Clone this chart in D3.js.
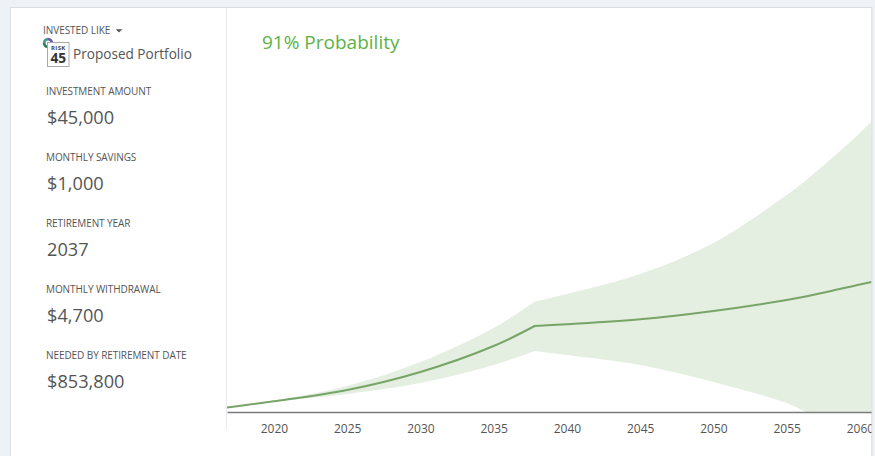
<!DOCTYPE html>
<html>
<head>
<meta charset="utf-8">
<script src="https://cdn.jsdelivr.net/npm/d3@7"></script>
<style>
  html, body { margin: 0; padding: 0; background: #eef1f6; overflow: hidden; }
  svg { display: block; font-family: "Open Sans", sans-serif; }
</style>
</head>
<body>
<svg id="chart" width="875" height="456"></svg>
<script>
// values, the break is the retirement point
const years  = [2016.8, 2020, 2025, 2030, 2035, 2037.8, 2040, 2045, 2050, 2055, 2056.3, 2060, 2060.8];
const median = [45000, 106000, 218000, 397000, 655000, 853800, 871000, 920000, 1003000, 1112000, 1147000, 1266000, 1291000];
const upper  = [45000, 114000, 258000, 496000, 834000, 1095000, 1172000, 1370000, 1678000, 2154000, 2298000, 2770000, 2889000];
const lower  = [45000, 102000, 179000, 288000, 467000, 606000, 566000, 467000, 298000, 89000, 0, 0, 0];
const tickYears = [2020, 2025, 2030, 2035, 2040, 2045, 2050, 2055, 2060];
const retireIndex = 5;
const floorIndex = 10; // lower edge reaches zero here

const fieldLabels = ["INVESTMENT AMOUNT", "MONTHLY SAVINGS", "RETIREMENT YEAR", "MONTHLY WITHDRAWAL", "NEEDED BY RETIREMENT DATE"];
const fieldValues = ["$45,000", "$1,000", "2037", "$4,700", "$853,800"];

const svg = d3.select("#chart");
const textColor = "#555";

// panel
svg.append("rect").attr("x", 10.5).attr("y", 7.5).attr("width", 861.5).attr("height", 460)
    .attr("fill", "#fff").attr("stroke", "#d9dde6");
svg.append("line").attr("x1", 226.5).attr("x2", 226.5).attr("y1", 8).attr("y2", 430)
    .attr("stroke", "#e9ebf3");

const x = d3.scaleLinear().domain([2016.8, 2060.8]).range([227, 871.6]);
const y = d3.scaleLinear().domain([0, 3000000]).range([412, 109.8]);

const rows = years.map((d, i) => ({ year: d, median: median[i], upper: upper[i], lower: lower[i] }));

// one edge of the chart as a path string
const edge = (part, key) => d3.line()
    .x(d => x(d.year))
    .y(d => y(d[key]))
    .curve(d3.curveCatmullRom.alpha(0.5))(part);
const joined = (part, key) => edge(part, key).replace("M", "L");

// corners stay sharp at the retirement point and where the lower edge hits zero
const before = rows.slice(0, retireIndex + 1);
const after = rows.slice(retireIndex);
const falling = rows.slice(retireIndex, floorIndex + 1);
const floor = rows.slice(floorIndex);

const bandPath = edge(before, "upper") + joined(after, "upper")
    + joined(floor.slice().reverse(), "lower")
    + joined(falling.slice().reverse(), "lower")
    + joined(before.slice().reverse(), "lower") + "Z";

svg.append("path").attr("d", bandPath).attr("fill", "#e4eee1");
svg.append("path").attr("d", edge(before, "median") + joined(after, "median")).attr("fill", "none")
    .attr("stroke", "#77a568").attr("stroke-width", 2).attr("stroke-linejoin", "round");

// axis
const axis = d3.axisBottom(x).tickValues(tickYears).tickFormat(d3.format("d")).tickSize(0).tickPadding(12).tickSizeOuter(0);
const axisG = svg.append("g").attr("transform", "translate(0,412)").call(axis);
axisG.select(".domain").attr("stroke", "#7b7b7b").attr("stroke-width", 1.5);
axisG.selectAll("text").attr("font-size", 12).attr("font-family", "Open Sans").attr("fill", textColor);

// the last tick label runs under the panel edge
svg.append("rect").attr("x", 872).attr("y", 0).attr("width", 3).attr("height", 456).attr("fill", "#eef1f6");
svg.append("line").attr("x1", 872).attr("x2", 872).attr("y1", 7).attr("y2", 456).attr("stroke", "#d9dde6");

svg.append("text").attr("x", 262).attr("y", 49).attr("font-size", 19).attr("fill", "#5cb345").text("91% Probability");

// sidebar
svg.append("text").attr("x", 43).attr("y", 34).attr("font-size", 10).attr("letter-spacing", -0.05).attr("fill", textColor).text("INVESTED LIKE");
svg.append("path").attr("d", "M115.7,29.3h6.6l-3.3,3.2z").attr("fill", "#555");

const arc = d3.arc().innerRadius(2.5).outerRadius(5.2);
const ringColors = ["#3f9a8c", "#6a5aa8", "#4aa8c8", "#2f7d5a"];
ringColors.forEach((c, i) => {
  svg.append("path").attr("transform", "translate(48,43)")
      .attr("d", arc({ startAngle: i * Math.PI / 2 - Math.PI / 2, endAngle: (i + 1) * Math.PI / 2 - Math.PI / 2 }))
      .attr("fill", c);
});
svg.append("rect").attr("x", 47.5).attr("y", 42.5).attr("width", 21.5).attr("height", 24)
    .attr("fill", "#fff").attr("stroke", "#aaa");
svg.append("text").attr("x", 58.3).attr("y", 50).attr("text-anchor", "middle").attr("font-size", 6)
    .attr("font-weight", 700).attr("letter-spacing", 0.3).attr("fill", "#444").text("RISK");
svg.append("text").attr("x", 58.3).attr("y", 62.7).attr("text-anchor", "middle").attr("font-size", 13.7)
    .attr("font-weight", 700).attr("fill", "#333").text("45");
svg.append("text").attr("x", 73).attr("y", 59).attr("font-size", 13.6).attr("fill", textColor).text("Proposed Portfolio");

fieldLabels.forEach((label, i) => {
  svg.append("text").attr("x", 46).attr("y", 95 + i * 66).attr("font-size", 10)
      .attr("letter-spacing", -0.08).attr("fill", textColor).text(label);
  svg.append("text").attr("x", 47).attr("y", 124 + i * 66).attr("font-size", 18.2)
      .attr("fill", textColor).text(fieldValues[i]);
});
</script>
</body>
</html>
